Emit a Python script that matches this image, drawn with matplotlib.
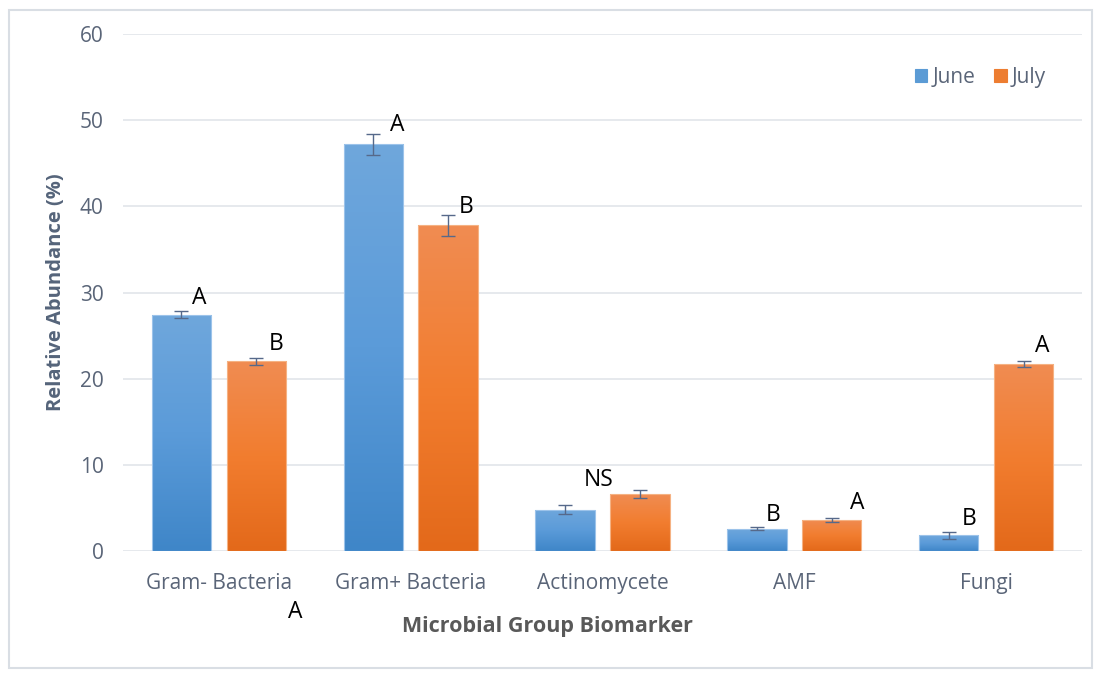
import matplotlib
matplotlib.use("Agg")
import matplotlib.pyplot as plt
import numpy as np
from matplotlib.colors import LinearSegmentedColormap
from matplotlib.patches import Rectangle

# data
groups = ["Gram- Bacteria", "Gram+ Bacteria", "Actinomycete", "AMF", "Fungi"]
june = [27.4, 47.2, 4.8, 2.6, 1.8]
june_err = [0.4, 1.2, 0.5, 0.2, 0.4]
july = [22.0, 37.8, 6.6, 3.6, 21.7]
july_err = [0.4, 1.2, 0.5, 0.2, 0.3]

# significance letters (text, x in category units, y in %)
letters = ["A", "B", "A", "B", "NS", "B", "A", "B", "A", "A"]
letter_x = [-0.10, 0.30, 0.93, 1.29, 1.98, 2.89, 3.33, 3.91, 4.29, 0.40]
letter_y = [29.4, 24.0, 49.4, 39.9, 8.2, 4.2, 5.6, 3.7, 23.8, -7.1]

plt.rcParams['font.family'] = ['Open Sans', 'DejaVu Sans']

fig = plt.figure(figsize=(11.01, 6.76), dpi=100)
ax = fig.add_axes([0.1117, 0.1849, 0.8711, 0.7648])

# light frame round the whole chart
fig.patches.append(Rectangle((0.008, 0.012), 0.984, 0.973, transform=fig.transFigure,
                             fill=False, edgecolor='#d9dee4', linewidth=1.5))

x = np.arange(len(groups))
w = 0.31
off = 0.195

blue_cm = LinearSegmentedColormap.from_list('b', ['#3f86c8', '#5b9bd9', '#6fa7dc'])
orange_cm = LinearSegmentedColormap.from_list('o', ['#e3691a', '#f27d2f', '#f08c52'])

b1 = ax.bar(x - off, june, w, color='none', edgecolor='#9cc3ea', linewidth=0.8, label='June', zorder=3)
b2 = ax.bar(x + off, july, w, color='none', edgecolor='#f5b283', linewidth=0.8, label='July', zorder=3)

grad = np.linspace(0, 1, 256).reshape(-1, 1)
for bars, cm in [(b1, blue_cm), (b2, orange_cm)]:
    for p in bars:
        x0, y0 = p.get_x(), p.get_y()
        im = ax.imshow(grad, cmap=cm, origin='lower', aspect='auto',
                       extent=(x0, x0 + p.get_width(), y0, y0 + p.get_height()), zorder=2)
        im.set_clip_path(p)

ax.errorbar(x - off, june, yerr=june_err, fmt='none', ecolor='#56698a', elinewidth=1,
            capsize=5, capthick=1, zorder=4)
ax.errorbar(x + off, july, yerr=july_err, fmt='none', ecolor='#56698a', elinewidth=1,
            capsize=5, capthick=1, zorder=4)

for t, lx, ly in zip(letters, letter_x, letter_y):
    ax.text(lx, ly, t, ha='center', va='center', fontsize=16.5, color='black',
            clip_on=False, zorder=5)

ax.set_xlim(-0.5, 4.5)
ax.set_ylim(0, 60)
ax.set_yticks(range(0, 61, 10))
ax.set_xticks(x)
ax.set_xticklabels(groups)
ax.yaxis.grid(True, color='#e1e5ea', linewidth=1.2, zorder=0)
ax.set_axisbelow(True)
for s in ax.spines.values():
    s.set_visible(False)
ax.tick_params(axis='both', length=0, labelsize=15, colors='#5a6578')
ax.tick_params(axis='x', pad=16)
ax.tick_params(axis='y', pad=14)

ax.set_ylabel('Relative Abundance (%)', fontsize=14.5, fontweight='bold', color='#55647a', labelpad=10)
ax.set_xlabel('Microbial Group Biomarker', fontsize=15.5, fontweight='bold', color='#595959',
              labelpad=16, x=0.443)

ax.legend(loc='upper right', bbox_to_anchor=(0.982, 0.972), ncol=2, frameon=False, fontsize=15,
          handlelength=0.6, handleheight=0.6, handletextpad=0.25, columnspacing=0.9,
          labelcolor='#5a6578')
leg = ax.get_legend()
leg.legend_handles[0].set_facecolor('#5b9bd5')
leg.legend_handles[0].set_edgecolor('#5b9bd5')
leg.legend_handles[1].set_facecolor('#ed7d31')
leg.legend_handles[1].set_edgecolor('#ed7d31')

fig.savefig('out.png', dpi=100)
